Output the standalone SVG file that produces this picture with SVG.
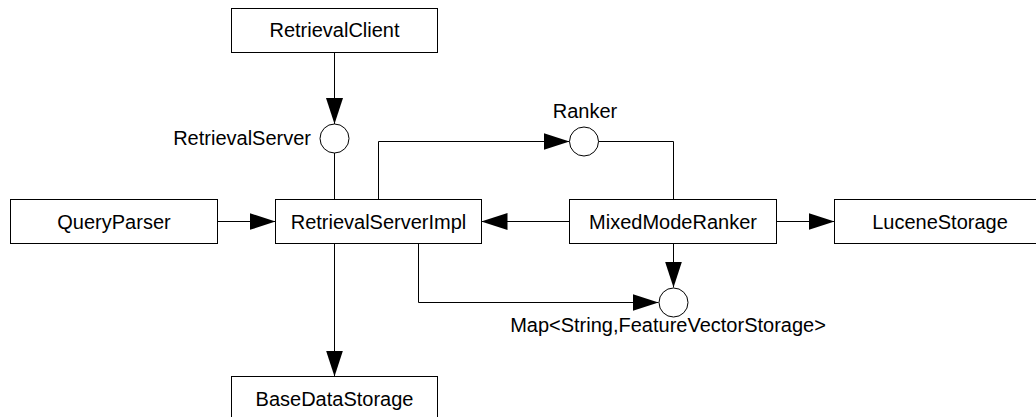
<svg xmlns="http://www.w3.org/2000/svg" width="1036" height="417" viewBox="0 0 1036 417">
<style>
.box{fill:#fff;stroke:#000;stroke-width:1}
.t{font-family:"Liberation Sans",Arial,sans-serif;font-size:20px;fill:#000}
.c{text-anchor:middle}
.e{text-anchor:end}
.ln{fill:none;stroke:#000;stroke-width:1}
.ifc{fill:#fff;stroke:#000;stroke-width:1}
</style>
<defs>
<marker id="ah" markerUnits="userSpaceOnUse" markerWidth="26" markerHeight="17" refX="26" refY="8.5" orient="auto">
<path d="M0,0 L26,8.5 L0,17 z" fill="#000"/>
</marker>
</defs>
<rect width="1036" height="417" fill="#fff"/>
<g id="connectors">
<path class="ln" d="M334.5,52.5 V124" marker-end="url(#ah)"/>
<path class="ln" d="M334.5,153 V199.5"/>
<path class="ln" d="M378.5,199.5 V141.5 H569.5" marker-end="url(#ah)"/>
<path class="ln" d="M598.5,141.5 H673.5 V199.5"/>
<path class="ln" d="M217.5,221.5 H275.5" marker-end="url(#ah)"/>
<path class="ln" d="M569.5,221.5 H481.5" marker-end="url(#ah)"/>
<path class="ln" d="M776.5,221.5 H834.5" marker-end="url(#ah)"/>
<path class="ln" d="M334.5,243.5 V376.5" marker-end="url(#ah)"/>
<path class="ln" d="M418.5,243.5 V302.5 H658.5" marker-end="url(#ah)"/>
<path class="ln" d="M673.5,243.5 V287.5" marker-end="url(#ah)"/>
</g>
<g id="RetrievalClient"><rect class="box" x="231.5" y="8.5" width="206" height="44"/><text class="t c" x="334.5" y="37">RetrievalClient</text></g>
<g id="RetrievalServer"><circle class="ifc" cx="334.5" cy="138.5" r="14.5"/><text class="t e" x="311" y="145">RetrievalServer</text></g>
<g id="Ranker"><circle class="ifc" cx="584" cy="141.5" r="14.5"/><text class="t c" x="585" y="118">Ranker</text></g>
<g id="QueryParser"><rect class="box" x="10.5" y="199.5" width="207" height="44"/><text class="t c" x="114" y="229">QueryParser</text></g>
<g id="RetrievalServerImpl"><rect class="box" x="275.5" y="199.5" width="206" height="44"/><text class="t c" x="378.5" y="229">RetrievalServerImpl</text></g>
<g id="MixedModeRanker"><rect class="box" x="569.5" y="199.5" width="207" height="44"/><text class="t c" x="673" y="229">MixedModeRanker</text></g>
<g id="LuceneStorage"><rect class="box" x="834.5" y="199.5" width="206" height="44"/><text class="t c" x="940" y="229">LuceneStorage</text></g>
<g id="MapStorage"><circle class="ifc" cx="673.5" cy="302.5" r="14.5"/><text class="t c" x="668" y="332">Map&lt;String,FeatureVectorStorage&gt;</text></g>
<g id="BaseDataStorage"><rect class="box" x="231.5" y="376.5" width="206" height="45"/><text class="t c" x="334.5" y="406">BaseDataStorage</text></g>
</svg>
